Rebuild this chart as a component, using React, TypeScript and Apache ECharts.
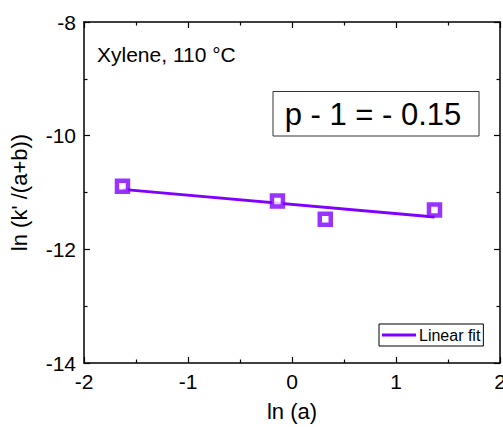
import React, { useEffect, useRef } from "react";
import * as echarts from "echarts";

const pointsX = [-1.63, -0.14, 0.32, 1.37];
const pointsY = [-10.89, -11.15, -11.47, -11.31];
const fitX = [-1.63, 1.37];
const fitY = [-10.945, -11.43];
const xTicks = [-2, -1, 0, 1, 2];
const yTicks = [-14, -12, -10, -8];
const annotation = "p - 1 = - 0.15";
const condition = "Xylene, 110 °C";

const PURPLE = "#8000ff";
const FONT = "Liberation Sans, Arial, sans-serif";

export default function App() {
  const ref = useRef<HTMLDivElement>(null);
  useEffect(() => {
    const chart = echarts.init(ref.current!, undefined, { renderer: "svg" });
    const axisCommon = {
      type: "value" as const,
      axisLine: { show: true, onZero: false, lineStyle: { color: "#000", width: 1.5 } },
      axisTick: { show: true, inside: true, length: 6, lineStyle: { color: "#000", width: 1.2 } },
      minorTick: { show: true, splitNumber: 2, length: 3.5, lineStyle: { color: "#000", width: 1.2 } },
      splitLine: { show: false },
    };
    chart.setOption({
      animation: false,
      grid: { left: 84, right: 3, top: 22, bottom: 64, outerBoundsMode: "none", containLabel: false },
      xAxis: [
        {
          ...axisCommon,
          min: xTicks[0],
          max: xTicks[xTicks.length - 1],
          interval: 1,
          position: "bottom",
          name: "ln (a)",
          nameLocation: "middle",
          nameGap: 37,
          nameTextStyle: { fontFamily: FONT, fontSize: 22, color: "#000" },
          axisLabel: { fontFamily: FONT, fontSize: 21, color: "#000", margin: 8 },
        },
        {
          ...axisCommon,
          min: xTicks[0],
          max: xTicks[xTicks.length - 1],
          interval: 1,
          position: "top",
          axisLabel: { show: false },
        },
      ],
      yAxis: [
        {
          ...axisCommon,
          min: yTicks[0],
          max: yTicks[yTicks.length - 1],
          interval: 2,
          position: "left",
          name: "ln (k' /(a+b))",
          nameLocation: "middle",
          nameGap: 54,
          nameTextStyle: { fontFamily: FONT, fontSize: 22, color: "#000" },
          axisLabel: { fontFamily: FONT, fontSize: 21, color: "#000", margin: 8 },
        },
        {
          ...axisCommon,
          min: yTicks[0],
          max: yTicks[yTicks.length - 1],
          interval: 2,
          position: "right",
          axisLabel: { show: false },
        },
      ],
      legend: {
        data: [{ name: "Linear fit", icon: "rect" }],
        left: 379,
        top: 324,
        itemWidth: 34,
        itemHeight: 3,
        itemGap: 4,
        padding: [3, 3, 3, 3],
        borderColor: "#000",
        borderWidth: 1,
        borderRadius: 0,
        textStyle: { fontFamily: FONT, fontSize: 16, color: "#000", padding: [0, 0, 0, -2] },
      },
      series: [
        {
          name: "Linear fit",
          type: "line",
          data: fitX.map((x, i) => [x, fitY[i]]),
          showSymbol: false,
          lineStyle: { color: PURPLE, width: 3 },
          itemStyle: { color: PURPLE },
          z: 2,
        },
        {
          name: "data",
          type: "scatter",
          data: pointsX.map((x, i) => [x, pointsY[i]]),
          symbol: "rect",
          symbolSize: 11,
          itemStyle: { color: "#fff", borderColor: PURPLE, borderWidth: 4.5 },
          z: 3,
        },
      ],
      graphic: [
        {
          type: "text",
          x: 97,
          y: 54.5,
          style: { text: condition, fontFamily: FONT, fontSize: 21, fill: "#000", verticalAlign: "middle" },
        },
        {
          type: "rect",
          shape: { x: 273, y: 91.5, width: 206, height: 44.5 },
          style: { fill: "#fff", stroke: "#333", lineWidth: 1 },
        },
        {
          type: "text",
          x: 373,
          y: 114,
          style: {
            text: annotation,
            fontFamily: FONT,
            fontSize: 31,
            fill: "#000",
            align: "center",
            verticalAlign: "middle",
          },
        },
      ],
    });
    return () => chart.dispose();
  }, []);
  return <div ref={ref} style={{ width: 503, height: 427, position: "absolute", left: 0, top: 0 }} />;
}
